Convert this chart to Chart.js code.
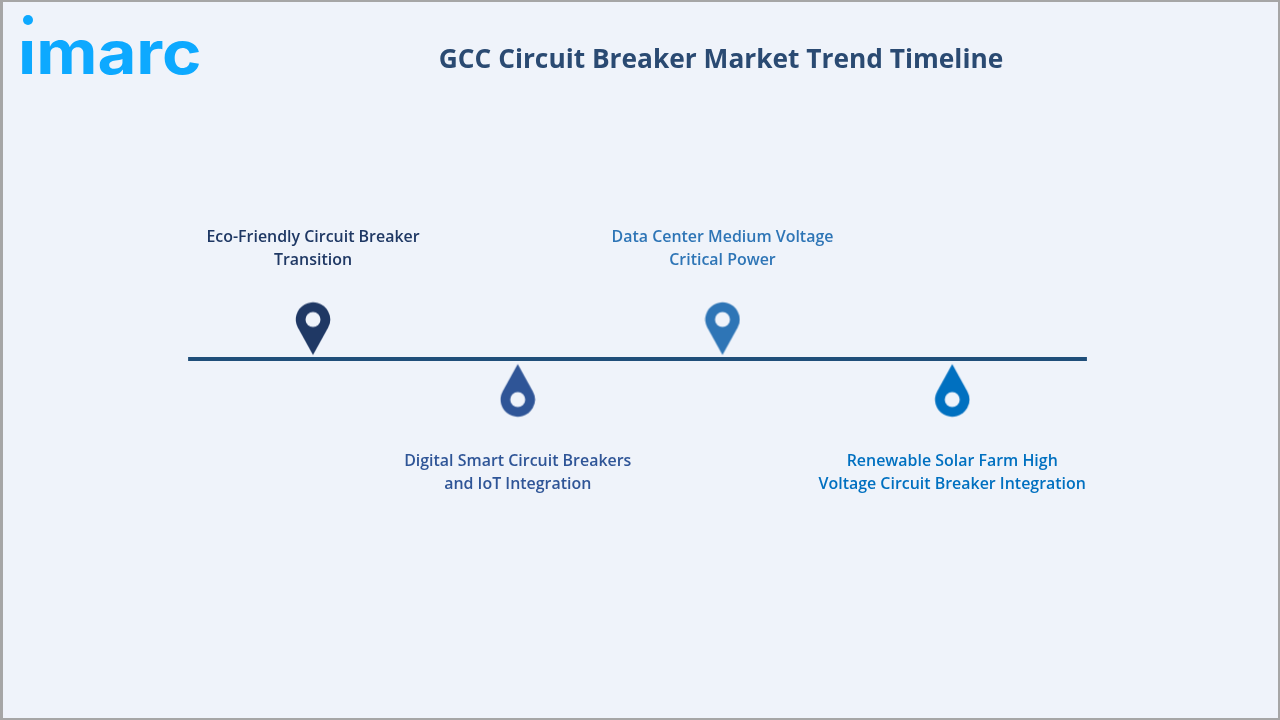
<!DOCTYPE html>
<html><head><meta charset="utf-8">
<style>
html,body{margin:0;padding:0;background:#eff3fa;overflow:hidden}
#wrap{position:relative;width:1280px;height:720px;overflow:hidden}
#frame{position:absolute;inset:0;box-sizing:border-box;border-style:solid;border-color:#a6a6a6;border-width:2px 2px 2px 3px;pointer-events:none}
#logo{position:absolute;left:18px;top:15px;font:700 60px Inter,sans-serif;line-height:74px;color:#0da9ff;transform-origin:0 0;transform:scaleX(1.118);white-space:nowrap}
#mask{position:absolute;left:14px;top:26px;width:28px;height:15px;background:#eff3fa}
#dot{position:absolute;left:23px;top:15px;width:10px;height:10px;border-radius:50%;background:#0da9ff}
canvas{position:absolute;left:0;top:0}
</style></head><body>
<div id="wrap">
<canvas id="c" width="1280" height="720"></canvas>
<div id="logo">imarc</div><div id="mask"></div><div id="dot"></div>
<div id="frame"></div>
</div>
<script src="https://cdn.jsdelivr.net/npm/chart.js@4"></script>
<script>
const chartTitle = "GCC Circuit Breaker Market Trend Timeline";
const milestones = [
  ["Eco-Friendly Circuit Breaker","Transition"],
  ["Digital Smart Circuit Breakers","and IoT Integration"],
  ["Data Center Medium Voltage","Critical Power"],
  ["Renewable Solar Farm High","Voltage Circuit Breaker Integration"]
];
const timelinePos = [1, 2, 3, 4.122];
const pinLevel = [1.017, -1.05, 1.017, -1.05];
const labelLevel = [4.067, -3.4, 4.067, -3.4];
const pinColors = ["#1f3864","#2f5597","#2e75b6","#0070c0"];
const axisStart = 0.39, axisEnd = 4.78;
const xMin = 0.2625, xMax = 5.723, yMin = -12.033, yMax = 9.3;

function makePin(color, up){
  const w=36,h=56,cv=document.createElement('canvas');
  cv.width=w;cv.height=h;
  const g=cv.getContext('2d');
  if(!up){g.translate(0,h);g.scale(1,-1);}
  const r=17.2,cx=w/2,cy=19,tip=54.5;
  const d=tip-cy,a=Math.acos(r/d);
  g.fillStyle=color;
  g.beginPath();
  g.moveTo(cx,tip);
  g.arc(cx,cy,r,Math.PI/2+a,Math.PI/2-a,false);
  g.closePath();g.fill();
  g.fillStyle='#eff3fa';
  g.beginPath();g.arc(cx,cy,7.5,0,Math.PI*2);g.fill();
  return cv;
}
const pins = pinColors.map((c,i)=>makePin(c,pinLevel[i]>0));

const labelPlugin = {
  id:'milestoneLabels',
  afterDatasetsDraw(chart){
    const {ctx,scales:{x,y}}=chart;
    ctx.save();
    ctx.font='600 15.95px "Open Sans", sans-serif';
    ctx.textAlign='center';ctx.textBaseline='middle';
    milestones.forEach((lines,i)=>{
      ctx.fillStyle=pinColors[i];
      lines.forEach((t,j)=>ctx.fillText(t,x.getPixelForValue(timelinePos[i]),y.getPixelForValue(labelLevel[i])+j*23));
    });
    ctx.restore();
  }
};

new Chart(document.getElementById('c'),{
  type:'scatter',
  data:{datasets:[
    {label:'Timeline',showLine:true,data:[{x:axisStart,y:0},{x:axisEnd,y:0}],borderColor:'#1f4e79',borderWidth:4,pointRadius:0,order:2},
    {label:'Milestones',showLine:false,data:timelinePos.map((p,i)=>({x:p,y:pinLevel[i]})),pointStyle:pins,pointRadius:18,order:1}
  ]},
  options:{
    responsive:false,animation:false,
    layout:{autoPadding:false,padding:{left:162,right:0,top:0,bottom:0}},
    plugins:{
      legend:{display:false},tooltip:{enabled:false},
      title:{display:true,text:chartTitle,fullSize:false,color:'#2a4a72',
        font:{family:'"Open Sans", sans-serif',size:26.3,weight:'700'},
        padding:{top:45,bottom:3.44}}
    },
    scales:{
      x:{type:'linear',min:xMin,max:xMax,display:false},
      y:{type:'linear',min:yMin,max:yMax,display:false}
    }
  },
  plugins:[labelPlugin]
});
</script>
</body></html>
